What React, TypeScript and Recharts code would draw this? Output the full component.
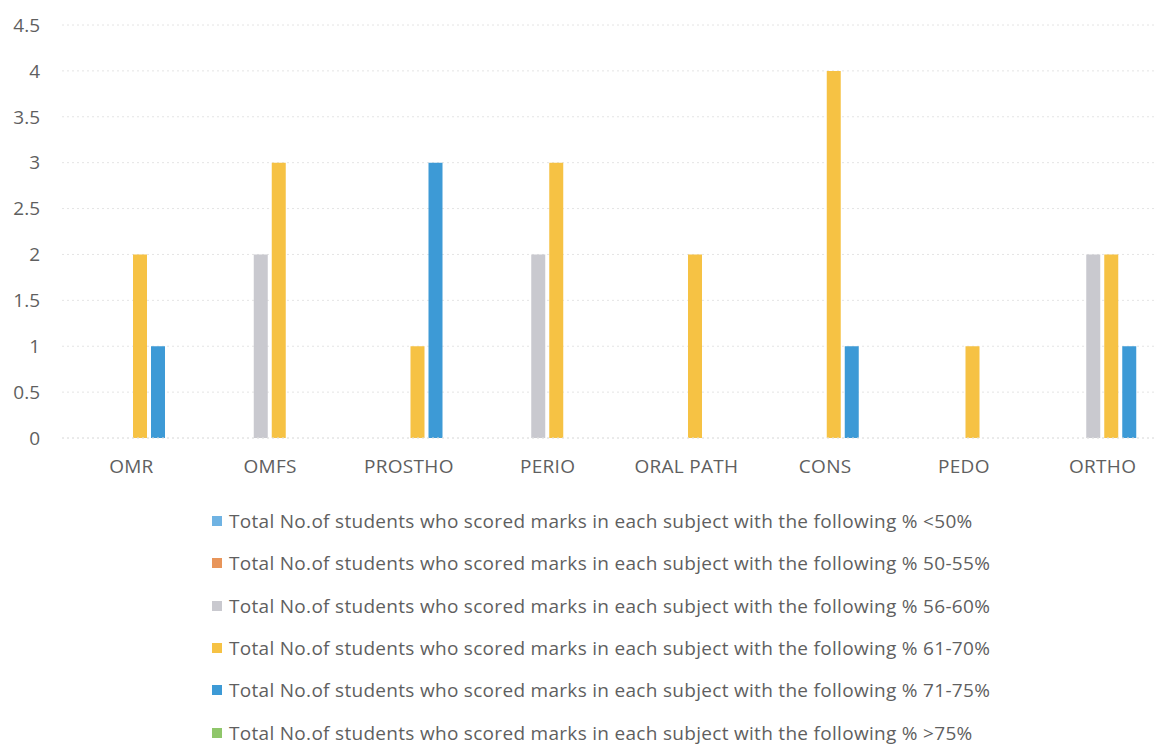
import { BarChart, Bar, XAxis, YAxis, CartesianGrid, Legend } from 'recharts';

const subjects = ['OMR', 'OMFS', 'PROSTHO', 'PERIO', 'ORAL PATH', 'CONS', 'PEDO', 'ORTHO'];

const below50 = [0, 0, 0, 0, 0, 0, 0, 0];
const from50to55 = [0, 0, 0, 0, 0, 0, 0, 0];
const from56to60 = [0, 2, 0, 2, 0, 0, 0, 2];
const from61to70 = [2, 3, 1, 3, 2, 4, 1, 2];
const from71to75 = [1, 0, 3, 0, 0, 1, 0, 1];
const above75 = [0, 0, 0, 0, 0, 0, 0, 0];

const yTicks = [0, 0.5, 1, 1.5, 2, 2.5, 3, 3.5, 4, 4.5];

const prefix = 'Total No.of students who scored marks in each subject with the following % ';

const series = [
  { key: 'lt50', name: prefix + '<50%', color: '#6fb3e3', values: below50 },
  { key: 'r50', name: prefix + '50-55%', color: '#e8955a', values: from50to55 },
  { key: 'r56', name: prefix + '56-60%', color: '#c9c9cf', values: from56to60 },
  { key: 'r61', name: prefix + '61-70%', color: '#f6c244', values: from61to70 },
  { key: 'r71', name: prefix + '71-75%', color: '#3d9ad6', values: from71to75 },
  { key: 'gt75', name: prefix + '>75%', color: '#8fc66a', values: above75 },
];

const data = subjects.map((s, i) => {
  const row: Record<string, string | number> = { subject: s };
  series.forEach((se) => { row[se.key] = se.values[i]; });
  return row;
});

const FONT = '"Open Sans", Lato, sans-serif';

function LegendList() {
  return (
    <div style={{ paddingLeft: 212, paddingTop: 2, fontFamily: FONT, color: '#5f5f5f', fontSize: 19, letterSpacing: 0.3 }}>
      {series.map((se) => (
        <div key={se.key} style={{ height: 42.3, display: 'flex', alignItems: 'center' }}>
          <span style={{ display: 'inline-block', width: 10, height: 10, background: se.color, marginRight: 7 }} />
          <span>{se.name}</span>
        </div>
      ))}
    </div>
  );
}

export default function App() {
  return (
    <div style={{ position: 'absolute', left: 0, top: 0, width: 1155, height: 747, overflow: 'hidden', background: '#fff' }}>
      <BarChart
        width={1175}
        height={747}
        data={data}
        margin={{ top: 25, right: 3, left: 0, bottom: 4 }}
        barSize={14}
        barGap={4}
      >
        <CartesianGrid vertical={false} stroke="#e4e4e4" strokeDasharray="2 3" />
        <XAxis
          dataKey="subject"
          axisLine={{ stroke: '#e4e4e4', strokeDasharray: '2 3' }}
          tickLine={false}
          tickSize={0}
          tickMargin={22}
          height={60}
          interval={0}
          tick={{ fill: '#5f5f5f', fontSize: 19, fontFamily: FONT, letterSpacing: 0.3 }}
        />
        <YAxis
          domain={[0, 4.5]}
          ticks={yTicks}
          width={62}
          axisLine={false}
          tickLine={false}
          tickSize={0}
          tickMargin={22}
          tick={{ fill: '#5f5f5f', fontSize: 19, fontFamily: FONT }}
        />
        <Legend verticalAlign="bottom" height={245} content={() => <LegendList />} />
        {series.map((se) => (
          <Bar key={se.key} dataKey={se.key} name={se.name} fill={se.color} isAnimationActive={false} />
        ))}
      </BarChart>
    </div>
  );
}
